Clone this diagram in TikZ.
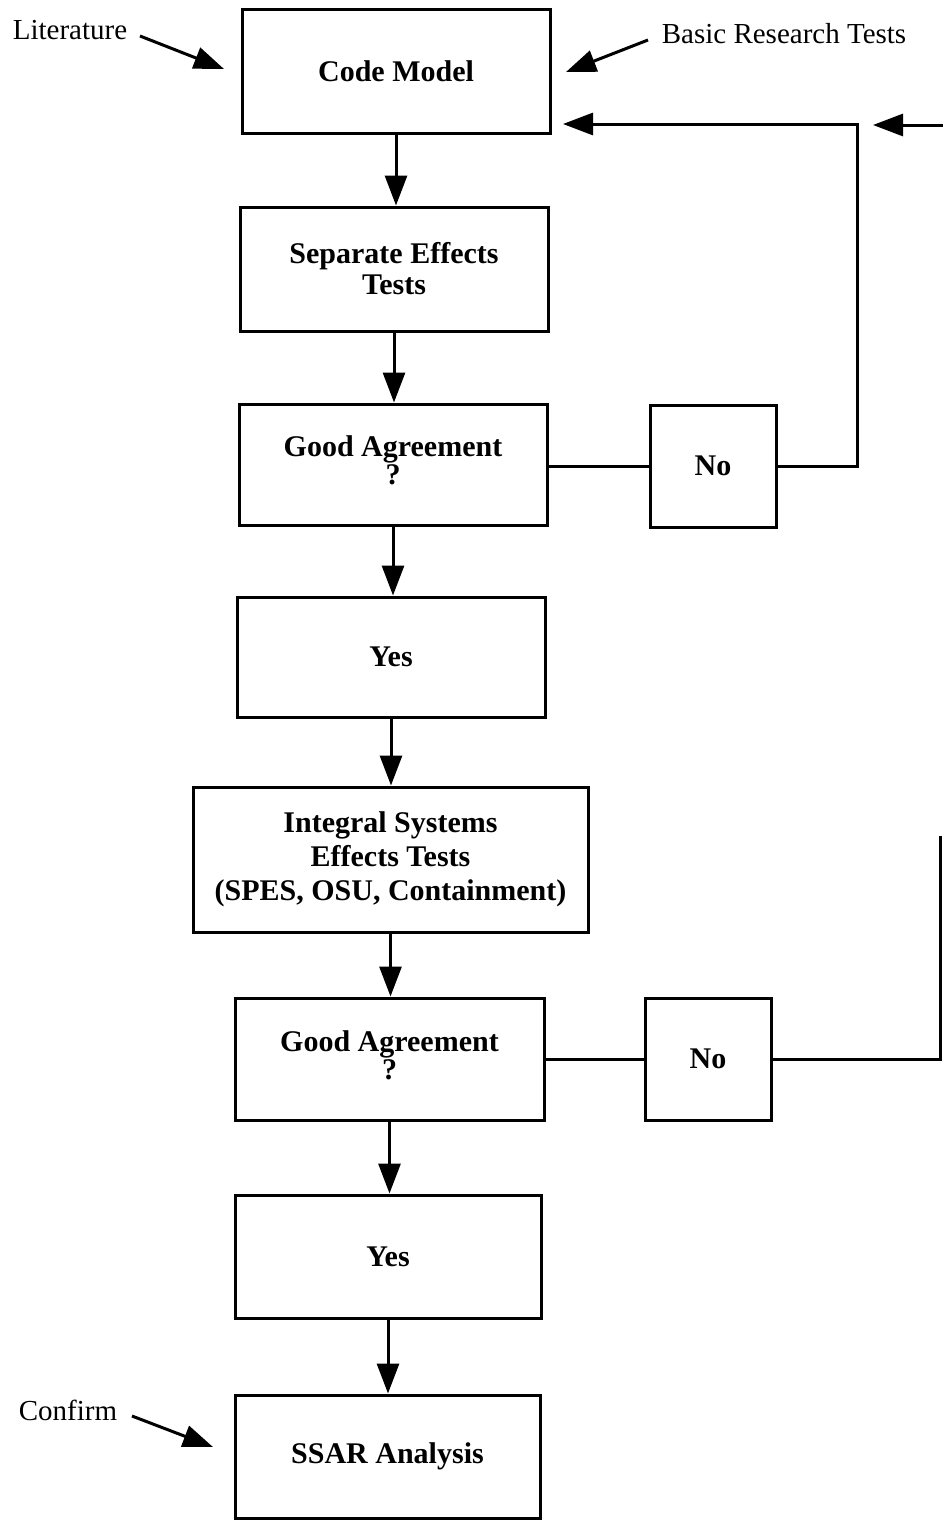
\documentclass[tikz,border=0pt]{standalone}
\usepackage{fontspec}
\setmainfont{Liberation Serif}
\usetikzlibrary{arrows.meta}
\newcommand{\gatext}{\raisebox{5pt}{\begin{tabular}{@{}c@{}}Good Agreement\\?\end{tabular}}}
\begin{document}
\begin{tikzpicture}[x=1pt,y=-1pt,
  box/.style={draw,line width=3pt,inner sep=0pt,align=center,font=\fontsize{30}{31}\selectfont\bfseries},
  lbl/.style={inner sep=0pt,font=\fontsize{29}{31}\selectfont},
  conn/.style={line width=3pt},
  arr/.style={line width=3pt,-{Triangle[length=30pt,width=22pt]}}]
\useasboundingbox (0,0) rectangle (942,1520);
\node[box,minimum width=308pt,minimum height=123pt] (code) at (396,71.5) {Code Model};
\node[box,minimum width=308pt,minimum height=124pt] (sep) at (394,269) {Separate Effects\\Tests};
\node[box,minimum width=308pt,minimum height=121pt,font=\fontsize{30}{27}\selectfont\bfseries] (ga1) at (393,464.5) {\gatext};
\node[box,minimum width=126pt,minimum height=122pt] (no1) at (713,466) {No};
\node[box,minimum width=308pt,minimum height=120pt] (yes1) at (391,657) {Yes};
\node[box,minimum width=395pt,minimum height=145pt,font=\fontsize{30}{34}\selectfont\bfseries] (isys) at (390.5,859.5) {Integral Systems\\Effects Tests\\(SPES, OSU, Containment)};
\node[box,minimum width=309pt,minimum height=122pt,font=\fontsize{30}{27}\selectfont\bfseries] (ga2) at (389.5,1059) {\gatext};
\node[box,minimum width=126pt,minimum height=122pt] (no2) at (708,1059) {No};
\node[box,minimum width=306pt,minimum height=123pt] (yes2) at (388,1256.5) {Yes};
\node[box,minimum width=305pt,minimum height=123pt] (ssar) at (387.5,1456.5) {SSAR Analysis};
\node[lbl] (lit) at (70,30) {Literature};
\node[lbl] (brt) at (784,34) {Basic Research Tests};
\node[lbl] (conf) at (68,1410) {Confirm};
\coordinate (litS) at (140,36);
\coordinate (litT) at (224,69);
\coordinate (brtS) at (648,40);
\coordinate (brtT) at (566,72);
\coordinate (confS) at (132,1416);
\coordinate (confT) at (213,1447);
\draw[arr] (litS) -- (litT);
\draw[arr] (brtS) -- (brtT);
\draw[arr] (confS) -- (confT);
\draw[arr] (code.south) -- (code.south |- sep.north);
\draw[arr] (sep.south) -- (sep.south |- ga1.north);
\draw[arr] (ga1.south) -- (ga1.south |- yes1.north);
\draw[arr] (yes1.south) -- (yes1.south |- isys.north);
\draw[arr] (isys.south) -- (isys.south |- ga2.north);
\draw[arr] (ga2.south) -- (ga2.south |- yes2.north);
\draw[arr] (yes2.south) -- (yes2.south |- ssar.north);
\draw[conn] (ga1.east |- no1.west) -- (no1.west);
\draw[conn] (ga2.east) -- (no2.west);
\coordinate (fb1a) at (857,466);
\coordinate (fb1b) at (857,124);
\coordinate (fb1t) at (563,124);
\draw[arr] (no1.east) -- (fb1a) -- (fb1b) -- (fb1t);
\coordinate (fb2a) at (940,1059);
\coordinate (fb2b) at (940,836);
\draw[conn] (no2.east) -- (fb2a) -- (fb2b);
\coordinate (inS) at (944,125);
\coordinate (inT) at (873,125);
\draw[arr] (inS) -- (inT);
\end{tikzpicture}
\end{document}
